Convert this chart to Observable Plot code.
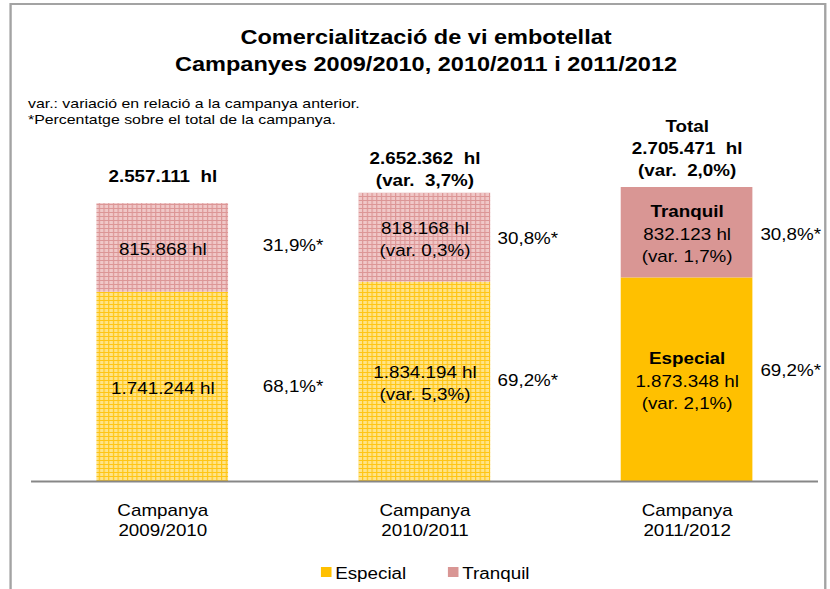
<!DOCTYPE html>
<html>
<head>
<meta charset="utf-8">
<script src="https://cdn.jsdelivr.net/npm/d3@7"></script>
<script src="https://cdn.jsdelivr.net/npm/@observablehq/plot@0.6"></script>
<style>
  html, body { margin: 0; padding: 0; background: #fff; overflow: hidden; }
  #wrap { position: relative; width: 706px; height: 589px; transform: scaleX(1.1756); transform-origin: 0 0;
          font-family: "Liberation Sans", Arial, sans-serif; color: #000; }
  #frame { position: absolute; left: 7.8px; top: 3px; width: 695.5px; height: 640px; border: 2px solid #a3a3a3; box-sizing: border-box; }
  #title { position: absolute; left: 0; top: 24px; width: 724.8px; text-align: center; font-weight: bold; font-size: 20px; line-height: 27px; }
  #notes { position: absolute; left: 23.8px; top: 96px; font-size: 13.5px; line-height: 16px; }
  #chart { position: absolute; left: 0; top: 80px; }
  .key { position: absolute; top: 566.7px; width: 8.5px; height: 10px; }
  .lab { position: absolute; top: 563.5px; font-size: 16px; line-height: 20px; }
</style>
</head>
<body>
<div id="wrap">
  <div id="frame"></div>
  <div id="title">Comercialització de vi embotellat<br>Campanyes 2009/2010, 2010/2011 i 2011/2012</div>
  <div id="notes">var.: variació en relació a la campanya anterior.<br>*Percentatge sobre el total de la campanya.</div>
  <div id="chart"></div>
  <div class="key" style="left:273.2px;background:#FFC000"></div>
  <div class="lab" style="left:285.1px">Especial</div>
  <div class="key" style="left:381.3px;background:#D99694"></div>
  <div class="lab" style="left:393.2px">Tranquil</div>
</div>
<script>
// ---- data ----
const campanyes = ["2009/2010", "2010/2011", "2011/2012"];
const series = ["Especial", "Tranquil"];
const especial = [1741244, 1834194, 1873348];
const tranquil = [815868, 818168, 832123];
const totals = [2557111, 2652362, 2705471];
const varEspecial = [null, 5.3, 2.1];
const varTranquil = [null, 0.3, 1.7];
const varTotal = [null, 3.7, 2.0];
const pctEspecial = [68.1, 69.2, 69.2];
const pctTranquil = [31.9, 30.8, 30.8];

// ---- build tables ----
const values = {Especial: especial, Tranquil: tranquil};
const vars = {Especial: varEspecial, Tranquil: varTranquil};
const pcts = {Especial: pctEspecial, Tranquil: pctTranquil};
const rows = [];
series.forEach(s => campanyes.forEach((c, i) => rows.push({campanya: c, serie: s, valor: values[s][i], variacio: vars[s][i], pct: pcts[s][i]})));
const totalRows = campanyes.map((c, i) => ({campanya: c, total: totals[i], variacio: varTotal[i], last: i === campanyes.length - 1}));

const locale = d3.formatLocale({decimal: ",", thousands: ".", grouping: [3], currency: ["", " €"]});
const fmtInt = locale.format(",d");
const fmtPct = locale.format(".1f");

const last = campanyes[campanyes.length - 1];
const solid = {Especial: "#FFC000", Tranquil: "#D99694"};
const fillOf = d => d.campanya === last ? solid[d.serie] : `url(#hatch-${d.serie})`;
const varLine = v => v == null ? "" : `\n(var. ${fmtPct(v)}%)`;
const valueLabel = d => `${fmtInt(d.valor)} hl` + varLine(d.variacio);
const totalLabel = d => (d.last ? "Total\n" : "") + `${fmtInt(d.total)}\u00a0 hl` + (d.variacio == null ? "" : `\n(var.\u00a0 ${fmtPct(d.variacio)}%)`);

// label offsets (style)
const totalDy = [-28.5, -25, -40.5];
const pctDx = [85, 61.7, 62.3];
const pctDy = {Especial: [0, -1, -9], Tranquil: [-2, 1, 2]};

// one mark per campaign and series; the whole campaign is kept so the stack stays intact
const pctMarks = [];
campanyes.forEach((c, i) => series.forEach(s => pctMarks.push(
  Plot.text(rows, Plot.stackY({filter: d => d.campanya === c, x: "campanya", y: "valor", z: "serie",
    text: d => d.serie === s ? `${fmtPct(d.pct)}%*` : null, textAnchor: "start", dx: pctDx[i], dy: pctDy[s][i], fontSize: 16}))
)));

const chart = Plot.plot({
  width: 706,
  height: 470,
  marginLeft: 26.4,
  marginRight: 10.2,
  marginTop: 75,
  marginBottom: 69,
  style: {fontFamily: "Liberation Sans, Arial, sans-serif", fontSize: "16px", background: "transparent", color: "#000", overflow: "visible"},
  x: {domain: campanyes, paddingInner: 0.5, paddingOuter: 0.25, axis: null},
  y: {domain: [0, 3000000], axis: null},
  color: {type: "identity"},
  marks: [
    Plot.barY(rows, {x: "campanya", y: "valor", z: "serie", fill: fillOf}),
    Plot.ruleY([0], {stroke: "#878787", strokeWidth: 2}),
    Plot.axisX({tickSize: 0, tickPadding: 20, fontSize: 16, lineHeight: 1.25, tickFormat: d => `Campanya\n${d}`, label: null}),
    Plot.text(rows, Plot.stackY({filter: d => d.campanya !== last, x: "campanya", y: "valor", z: "serie", text: valueLabel, fontSize: 16, lineHeight: 1.375})),
    Plot.text(rows, Plot.stackY({filter: d => d.campanya === last, x: "campanya", y: "valor", z: "serie", text: "serie", fontWeight: "bold", fontSize: 16, dy: -21})),
    Plot.text(rows, Plot.stackY({filter: d => d.campanya === last, x: "campanya", y: "valor", z: "serie", text: valueLabel, fontSize: 16, lineHeight: 1.375, dy: 11.5})),
    ...pctMarks,
    ...campanyes.map((c, i) => Plot.text(totalRows, {filter: d => d.campanya === c, x: "campanya", y: "total", text: totalLabel, fontWeight: "bold", fontSize: 16, lineHeight: 1.375, dy: totalDy[i]}))
  ]
});

chart.insertAdjacentHTML("afterbegin", `<defs>
  <pattern id="hatch-Tranquil" patternUnits="userSpaceOnUse" width="4" height="4">
    <rect width="4" height="4" fill="#F0C8C8"></rect>
    <path d="M0 0.5H4M0.5 0V4" stroke="#DC9696" stroke-width="1"></path>
  </pattern>
  <pattern id="hatch-Especial" patternUnits="userSpaceOnUse" width="4" height="4">
    <rect width="4" height="4" fill="#FFE488"></rect>
    <path d="M0 0.5H4M0.5 0V4" stroke="#FFC514" stroke-width="1"></path>
  </pattern>
</defs>`);
document.getElementById("chart").appendChild(chart);
</script>
</body>
</html>
